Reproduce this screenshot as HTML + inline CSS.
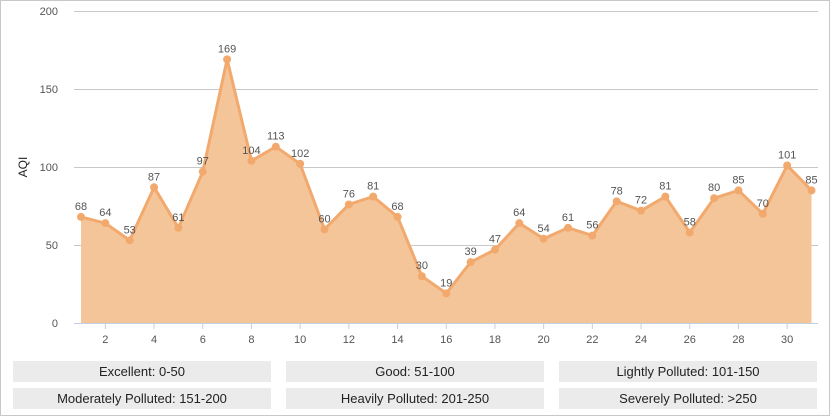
<!DOCTYPE html>
<html><head><style>
html,body{margin:0;padding:0;}
body{width:830px;height:416px;position:relative;background:#fff;font-family:"Liberation Sans",sans-serif;overflow:hidden;}
.frame{position:absolute;left:0;top:0;width:828px;height:414px;border:1px solid #c8c8c8;}
.b{position:absolute;height:21px;line-height:21px;background:#ebebeb;text-align:center;font-size:13px;color:#222;width:258px;}
</style></head><body>
<div class="frame"></div>
<svg width="830" height="416" style="position:absolute;left:0;top:0" font-family="Liberation Sans, sans-serif">
<g stroke="#c8c8c8" stroke-width="1">
<line x1="74" y1="11.5" x2="818" y2="11.5"/>
<line x1="74" y1="89.5" x2="818" y2="89.5"/>
<line x1="74" y1="167.5" x2="818" y2="167.5"/>
<line x1="74" y1="245.5" x2="818" y2="245.5"/>
</g>
<g font-size="11" fill="#555" text-anchor="end">
<text x="58" y="15">200</text><text x="58" y="93">150</text><text x="58" y="171">100</text><text x="58" y="249">50</text><text x="58" y="327">0</text>
</g>
<text transform="translate(27,167) rotate(-90)" font-size="12" fill="#222" text-anchor="middle">AQI</text>
<g id="chart"></g>
<line x1="74" y1="323.5" x2="818" y2="323.5" stroke="#c0d0e0"/>
</svg>
<div class="b" style="left:13px;top:361px">Excellent: 0-50</div>
<div class="b" style="left:286px;top:361px">Good: 51-100</div>
<div class="b" style="left:559px;top:361px">Lightly Polluted: 101-150</div>
<div class="b" style="left:13px;top:388px">Moderately Polluted: 151-200</div>
<div class="b" style="left:286px;top:388px">Heavily Polluted: 201-250</div>
<div class="b" style="left:559px;top:388px">Severely Polluted: &gt;250</div>
<script>
var d=[68,64,53,87,61,97,169,104,113,102,60,76,81,68,30,19,39,47,64,54,61,56,78,72,81,58,80,85,70,101,85];
var X=i=>81+i*24.35, Y=v=>323-v*1.56;
var pts=d.map((v,i)=>X(i).toFixed(1)+","+Y(v).toFixed(1)).join(" ");
var s='<polygon points="'+X(0)+',323 '+pts+' '+X(30)+',323" fill="#f5c59a"/>';
s+='<polyline points="'+pts+'" fill="none" stroke="#f2a96e" stroke-width="3" stroke-linejoin="round"/>';
d.forEach((v,i)=>{s+='<circle cx="'+X(i)+'" cy="'+Y(v)+'" r="4" fill="#f2a96e"/>';
s+='<text x="'+X(i)+'" y="'+(Y(v)-7)+'" font-size="11" fill="#555" text-anchor="middle">'+v+'</text>';
if(i%2==1){s+='<line x1="'+X(i)+'" y1="323" x2="'+X(i)+'" y2="329" stroke="#c0d0e0"/><text x="'+X(i)+'" y="343" font-size="11" fill="#555" text-anchor="middle">'+(i+1)+'</text>';}});
document.getElementById('chart').innerHTML=s;
</script>
</body></html>
